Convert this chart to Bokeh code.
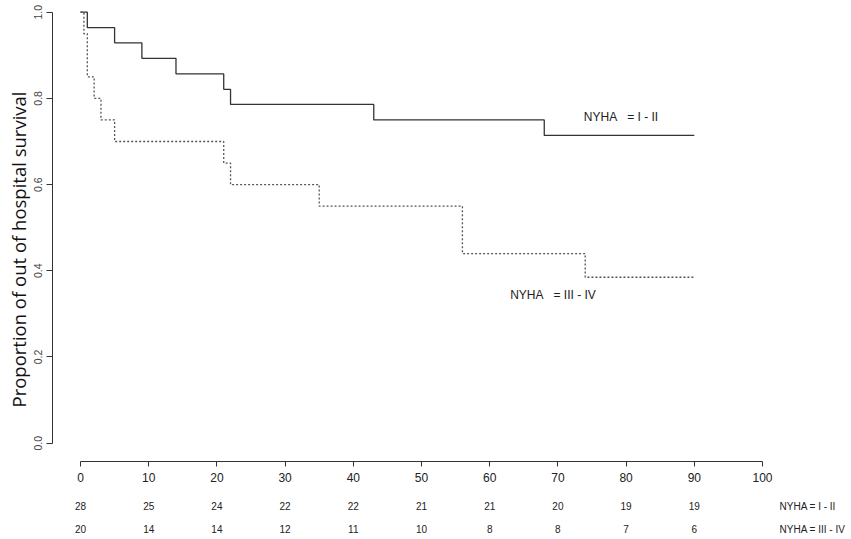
from bokeh.plotting import figure
from bokeh.layouts import column
from bokeh.models import Range1d, FixedTicker, PrintfTickFormatter, Title
from bokeh.core.properties import value
from bokeh.embed import file_html
from bokeh.resources import INLINE

# Kaplan-Meier step data
t_12 = [0, 1, 5, 9, 14, 21, 22, 43, 68, 90]
s_12 = [1.0, 0.964, 0.929, 0.893, 0.857, 0.821, 0.786, 0.750, 0.714, 0.714]

t_34 = [0, 0.5, 1, 2, 3, 5, 21, 22, 35, 56, 74, 90]
s_34 = [1.0, 0.95, 0.85, 0.80, 0.75, 0.70, 0.65, 0.60, 0.55, 0.44, 0.385, 0.385]

x_ticks = [0, 10, 20, 30, 40, 50, 60, 70, 80, 90, 100]
y_ticks = [0.0, 0.2, 0.4, 0.6, 0.8, 1.0]

risk_times = [0, 10, 20, 30, 40, 50, 60, 70, 80, 90]
risk_12 = ["28", "25", "24", "22", "22", "21", "21", "20", "19", "19"]
risk_34 = ["20", "14", "14", "12", "11", "10", "8", "8", "7", "6"]
group_labels = ["NYHA = I - II", "NYHA = III - IV"]
curve_labels = ["NYHA\u00a0\u00a0 = I - II", "NYHA\u00a0\u00a0 = III - IV"]
y_title = "Proportion of out of hospital survival"

FONT = "Liberation Sans"
W = 845
PXU = 6.82
x0px = 80
left = 52
xr = Range1d((left - x0px) / PXU, (W - x0px) / PXU)

p = figure(width=W, height=487, x_range=xr, y_range=Range1d(-0.0425, 1.0271),
           output_backend="svg", toolbar_location=None,
           min_border_left=left, min_border_right=0, min_border_top=0, min_border_bottom=26)
p.outline_line_color = None
p.grid.visible = False
p.background_fill_color = "white"
p.border_fill_color = "white"

p.step(t_12, s_12, mode="after", line_color="#333333", line_width=1.3)
p.step(t_34, s_34, mode="after", line_color="#555555", line_width=1.3, line_dash="2 2")

p.text(x=[73.8, 63.0], y=[0.756, 0.343], text=curve_labels,
       text_font=value(FONT), text_font_size="12px", text_color="#222222",
       text_align="left", text_baseline="middle")

xa = p.xaxis[0]
xa.ticker = FixedTicker(ticks=x_ticks)
xa.bounds = (0, 100)
xa.major_tick_in = 0
xa.major_tick_out = 5
xa.minor_tick_line_color = None
xa.axis_line_color = "#333333"
xa.major_tick_line_color = "#333333"
xa.major_label_text_font = FONT
xa.major_label_text_font_size = "12px"
xa.major_label_text_color = "#222222"
xa.major_label_standoff = 6

ya = p.yaxis[0]
ya.ticker = FixedTicker(ticks=y_ticks)
ya.formatter = PrintfTickFormatter(format="%.1f")
ya.bounds = (0, 1)
ya.major_tick_in = 0
ya.major_tick_out = 6
ya.minor_tick_line_color = None
ya.axis_line_color = "#333333"
ya.major_tick_line_color = "#333333"
ya.major_label_orientation = "vertical"
ya.major_label_text_font = FONT
ya.major_label_text_font_size = "10.5px"
ya.major_label_text_color = "#444444"
ya.major_label_standoff = 4

ytitle = Title(text=y_title, align="left", offset=54, standoff=1,
               text_font="Open Sans", text_font_style="normal",
               text_font_size="18.5px", text_color="#111111")
p.add_layout(ytitle, "left")

q = figure(width=W, height=48, x_range=xr, y_range=Range1d(2.261, 0.174),
           output_backend="svg", toolbar_location=None,
           min_border_left=left, min_border_right=0, min_border_top=0, min_border_bottom=0)
q.outline_line_color = None
q.grid.visible = False
q.axis.visible = False
q.border_fill_color = "white"

q.text(x=risk_times, y=[1] * len(risk_times), text=risk_12,
       text_font=value(FONT), text_font_size="10px", text_color="#222222",
       text_align="center", text_baseline="middle")
q.text(x=risk_times, y=[2] * len(risk_times), text=risk_34,
       text_font=value(FONT), text_font_size="10px", text_color="#222222",
       text_align="center", text_baseline="middle")
q.text(x=[102.5, 102.5], y=[1, 2], text=group_labels,
       text_font=value(FONT), text_font_size="10px", text_color="#222222",
       text_align="left", text_baseline="middle")

layout = column(p, q, spacing=0)
open("out.html", "w").write(file_html(layout, INLINE))
